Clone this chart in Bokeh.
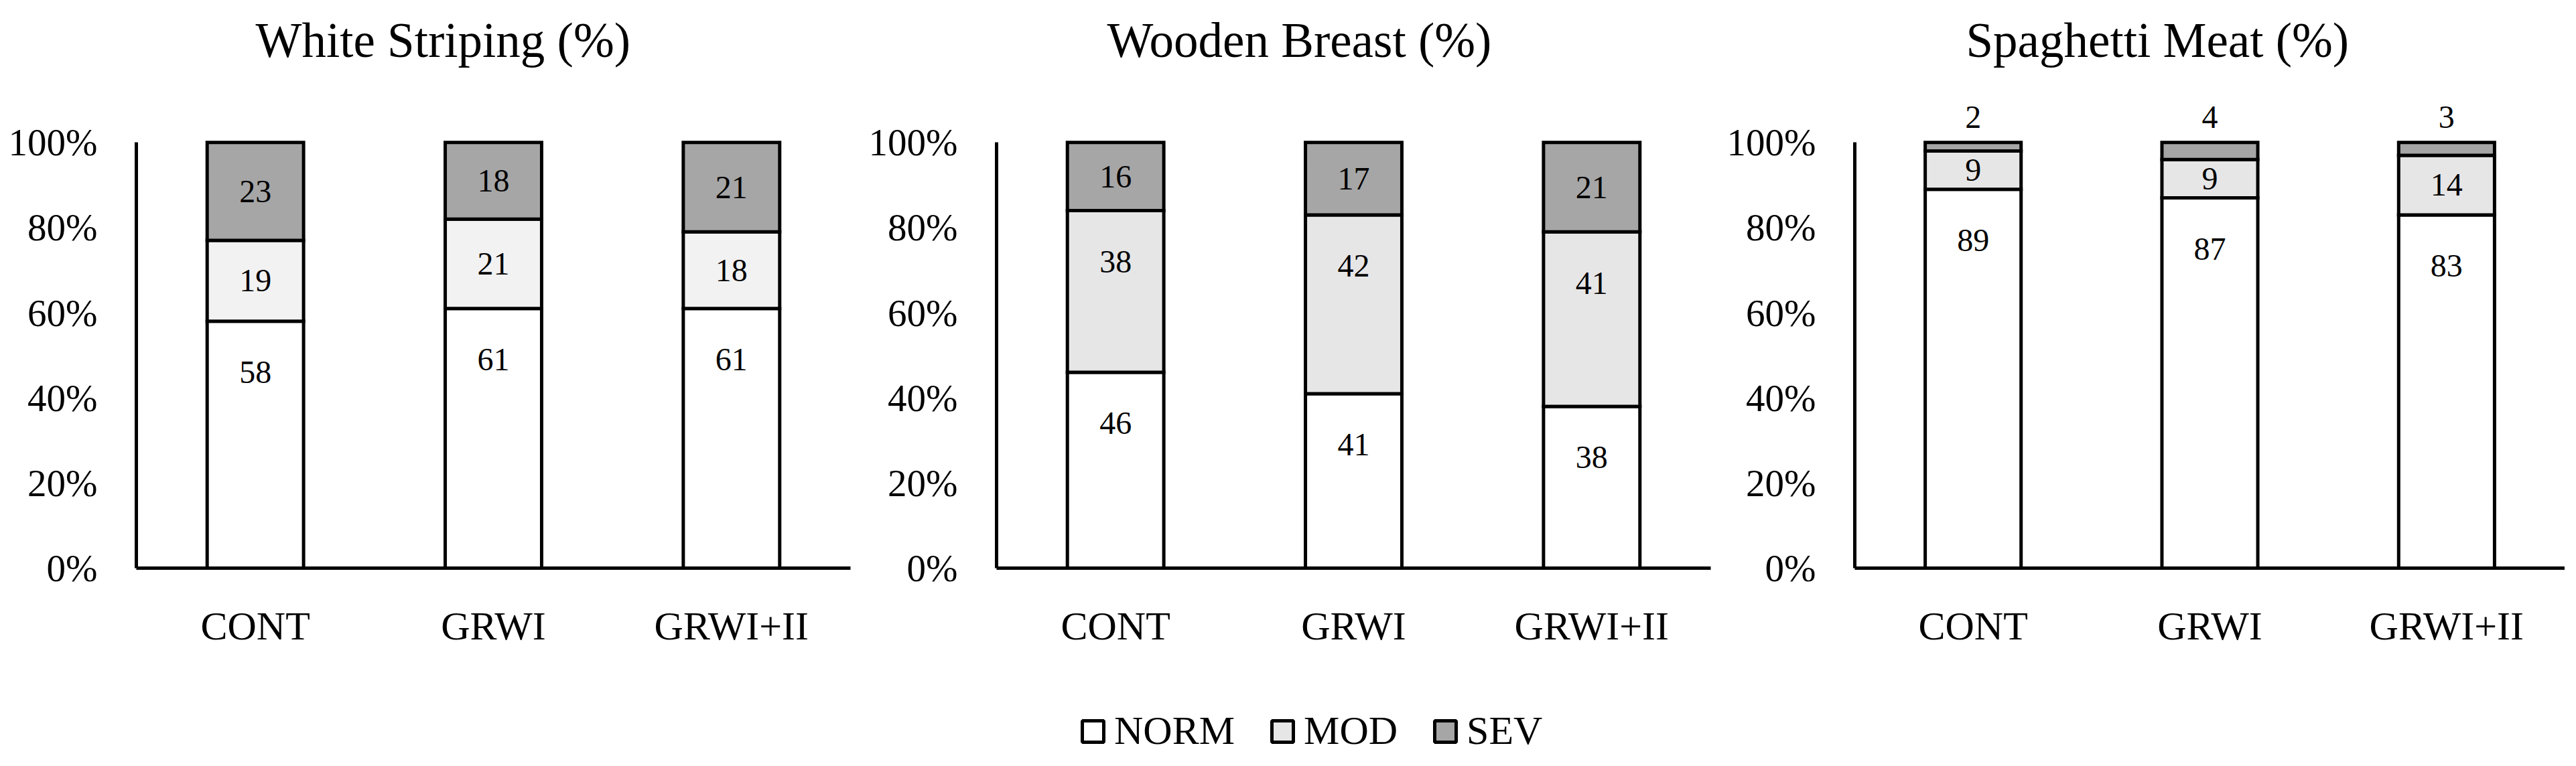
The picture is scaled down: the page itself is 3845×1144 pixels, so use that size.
from bokeh.plotting import figure
from bokeh.models import (Range1d, FactorRange, FixedTicker, PrintfTickFormatter,
                          Legend, LegendItem, ColumnDataSource)
from bokeh.layouts import row, column
from bokeh.embed import file_html
from bokeh.resources import INLINE
from bokeh.core.properties import value

# ---------------- data ----------------
categories = ["CONT", "GRWI", "GRWI+II"]
series_names = ["NORM", "MOD", "SEV"]

ws_norm = [58, 61, 61]
ws_mod = [19, 21, 18]
ws_sev = [23, 18, 21]

wb_norm = [46, 41, 38]
wb_mod = [38, 42, 41]
wb_sev = [16, 17, 21]

sm_norm = [89, 87, 83]
sm_mod = [9, 9, 14]
sm_sev = [2, 4, 3]

titles = ["White Striping (%)", "Wooden Breast (%)", "Spaghetti Meat (%)"]
y_ticks = [0, 20, 40, 60, 80, 100]

# ---------------- style ----------------
FONT = "Liberation Serif"
SEV_COLOR = "#a6a6a6"
NORM_COLOR = "#ffffff"
MOD_LIGHT = "#f2f2f2"
MOD_COLOR = "#e7e6e7"
BAR_W = 0.405
FIG_H = 972


def panel(title, norm, mod, sev, mod_color, width, left, right, title_offset):
    p = figure(x_range=FactorRange(*categories), y_range=Range1d(0, 115),
               width=width, height=FIG_H, output_backend="svg", toolbar_location=None,
               min_border_left=left, min_border_right=right,
               min_border_top=109, min_border_bottom=FIG_H - 109 - 739)
    src = ColumnDataSource(dict(cat=categories, NORM=norm, MOD=mod, SEV=sev))
    p.vbar_stack(series_names, x="cat", width=BAR_W, source=src,
                 fill_color=[NORM_COLOR, mod_color, SEV_COLOR],
                 line_color="black", line_width=5, line_join="miter")

    # value labels
    lx, ly, lt = [], [], []
    for i, c in enumerate(categories):
        bottom = 0
        for seg in (norm[i], mod[i], sev[i]):
            top = bottom + seg
            if seg >= 5:
                y = top - min(seg / 2.0, 12)
            else:
                y = 100 + 6
            lx.append(c)
            ly.append(y)
            lt.append(str(seg))
            bottom = top
    p.text(x=lx, y=ly, text=lt, text_align="center", text_baseline="middle",
           text_font=value(FONT), text_font_size="48px", text_color="black")

    p.title.text = title
    p.title.text_font = FONT
    p.title.text_font_size = "73px"
    p.title.text_font_style = "normal"
    p.title.text_color = "black"
    p.title.align = "left"
    p.title.offset = title_offset
    p.title.standoff = 34

    for ax in (p.xaxis, p.yaxis):
        ax.axis_line_color = "black"
        ax.axis_line_width = 5
        ax.major_tick_line_color = None
        ax.minor_tick_line_color = None
        ax.major_tick_out = 0
        ax.major_tick_in = 0
        ax.major_label_text_font = FONT
        ax.major_label_text_color = "black"
    p.xaxis.major_label_text_font_size = "60px"
    p.xaxis.major_label_standoff = 53
    p.yaxis.major_label_text_font_size = "57px"
    p.yaxis.major_label_standoff = 58
    p.yaxis.bounds = (0, 100)
    p.yaxis.ticker = FixedTicker(ticks=y_ticks)
    p.yaxis.formatter = PrintfTickFormatter(format="%d%%")

    p.xgrid.grid_line_color = None
    p.ygrid.grid_line_color = None
    p.outline_line_color = None
    p.background_fill_color = "white"
    p.border_fill_color = "white"
    return p


p1 = panel(titles[0], ws_norm, ws_mod, ws_sev, MOD_LIGHT, 1277, 203, 8, 178)
p2 = panel(titles[1], wb_norm, wb_mod, wb_sev, MOD_COLOR, 1284, 210, 8, 165)
p3 = panel(titles[2], sm_norm, sm_mod, sm_sev, MOD_COLOR, 1267, 207, 0, 166)

# legend strip below the charts (legend swatches only; the swatch glyphs sit
# outside the strip's visible range so nothing but the legend is drawn)
lf = figure(width=3828, height=1128 - FIG_H, output_backend="svg", toolbar_location=None,
            x_axis_type=None, y_axis_type=None, min_border=0,
            x_range=Range1d(0, 1), y_range=Range1d(0, 1))
lf.outline_line_color = None
lf.background_fill_color = "white"
lf.border_fill_color = "white"
legend_colors = [NORM_COLOR, MOD_COLOR, SEV_COLOR]
items = []
for name, col in zip(series_names, legend_colors):
    r = lf.rect(x=[-5], y=[-5], width=0.1, height=0.1, fill_color=col,
                line_color="black", line_width=5)
    items.append(LegendItem(label=name, renderers=[r]))
leg = Legend(items=items, orientation="horizontal", location=(1611, 2),
             glyph_width=40, glyph_height=40, label_standoff=12, spacing=51,
             padding=0, margin=0, border_line_color=None, background_fill_alpha=0,
             label_text_font=FONT, label_text_font_size="60px", label_text_color="black")
lf.add_layout(leg)

layout = column(row(p1, p2, p3), lf)
open("out.html", "w").write(file_html(layout, INLINE))
